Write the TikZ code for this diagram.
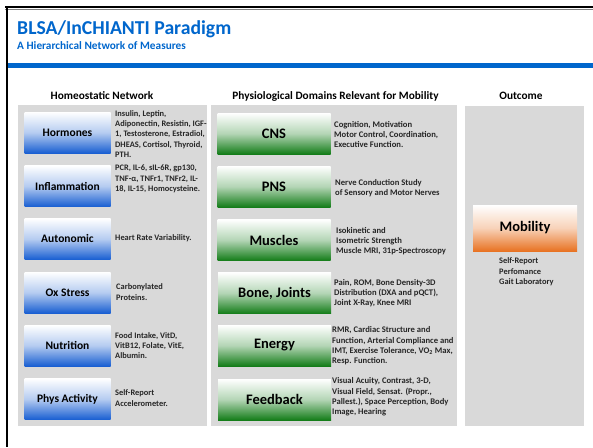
\documentclass[tikz,border=0pt]{standalone}
\usepackage{fontspec}
\setmainfont{Carlito}
\definecolor{titleblue}{RGB}{0,102,204}
\definecolor{panelgray}{RGB}{217,217,217}
\definecolor{boxblue}{RGB}{25,95,210}
\definecolor{boxgreen}{RGB}{20,125,25}
\definecolor{boxorange}{RGB}{232,115,35}
\definecolor{desctext}{RGB}{38,38,38}
\newcommand{\ds}{\fontsize{8.4}{10.3}\selectfont\bfseries}
\newcommand{\dds}{\fontsize{8.6}{10.3}\selectfont\bfseries}

\begin{document}
\begin{tikzpicture}[x=1pt,y=-1pt,
    hbox/.style={minimum width=86pt,minimum height=41pt,inner sep=0pt,
      font=\fontsize{11.5}{13}\selectfont\bfseries,
      top color=white,bottom color=boxblue,middle color=boxblue!32!white},
    dbox/.style={minimum width=113pt,minimum height=41pt,inner sep=0pt,
      font=\fontsize{14.5}{16}\selectfont\bfseries,
      top color=white,bottom color=boxgreen,middle color=boxgreen!32!white},
    obox/.style={minimum width=104pt,minimum height=46pt,inner sep=0pt,
      font=\fontsize{14.5}{16}\selectfont\bfseries,
      top color=white,bottom color=boxorange,middle color=boxorange!32!white},
    desc/.style={anchor=west,align=left,inner sep=0pt,text=desctext,font=\ds},
    ddesc/.style={desc,font=\dds},
    colhead/.style={anchor=base,inner sep=0pt,font=\fontsize{11.3}{13}\selectfont\bfseries}]
  \useasboundingbox (0,0) rectangle (593,447);
  % frame and title
  \draw[line width=2.4pt] (5,7.2) -- (593,7.2);
  \draw[gray,line width=0.9pt] (5,9.2) -- (593,9.2);
  \draw[line width=2.4pt] (7,6) -- (7,447);
  \fill[titleblue] (8,63) rectangle (593,68);
  \node (title) [anchor=base west,inner sep=0pt,text=titleblue,font=\fontsize{19.7}{22}\selectfont\bfseries]
    at (17,34.3) {BLSA/InCHIANTI Paradigm};
  \node (subtitle) [anchor=base west,inner sep=0pt,text=titleblue,font=\fontsize{11.3}{13}\selectfont\bfseries]
    at (17,49.3) {A Hierarchical Network of Measures};
  % panels
  \fill[panelgray] (18,105) rectangle (207,426);
  \fill[panelgray] (211,105) rectangle (457,426);
  \fill[panelgray] (465,106) rectangle (584,426);
  \node (homeo)   [colhead] at (102,99)   {Homeostatic Network};
  \node (domains) [colhead] at (335.5,99) {Physiological Domains Relevant for Mobility};
  \node (outcome) [colhead] at (521,99)   {Outcome};
  % homeostatic network
  \node (hormones) [hbox] at (67.5,132.5) {Hormones};
  \node (inflam)   [hbox] at (67.5,186)   {Inflammation};
  \node (auton)    [hbox] at (67.5,239)   {Autonomic};
  \node (oxstress) [hbox] at (67.5,292.5) {Ox Stress};
  \node (nutrit)   [hbox] at (67.5,345.5) {Nutrition};
  \node (physact)  [hbox] at (67.5,399)   {Phys Activity};
  \node (hormones-d) [desc] at (115,134) {Insulin, Leptin,\\Adiponectin, Resistin, IGF-\\1, Testosterone, Estradiol,\\DHEAS, Cortisol, Thyroid,\\PTH.};
  \node (inflam-d)   [desc] at (115,179) {PCR, IL-6, sIL-6R, gp130,\\TNF-α, TNFr1, TNFr2, IL-\\18, IL-15, Homocysteine.};
  \node (auton-d)    [desc] at (115,238) {Heart Rate Variability.};
  \node (oxstress-d) [desc] at (116,292) {Carbonylated\\Proteins.};
  \node (nutrit-d)   [desc] at (115,345.5) {Food Intake, VitD,\\VitB12, Folate, VitE,\\Albumin.};
  \node (physact-d)  [desc] at (115,398) {Self-Report\\Accelerometer.};
  % physiological domains
  \node (cns)      [dbox] at (274,133.5) {CNS};
  \node (pns)      [dbox] at (274,186.5) {PNS};
  \node (muscles)  [dbox] at (274,240)   {Muscles};
  \node (bone)     [dbox] at (274.5,293) {Bone, Joints};
  \node (energy)   [dbox] at (274.5,345.5) {Energy};
  \node (feedback) [dbox] at (274.5,399.5) {Feedback};
  \node (cns-d)      [ddesc] at (334,134.5) {Cognition, Motivation\\Motor Control, Coordination,\\Executive Function.};
  \node (pns-d)      [ddesc] at (335,188)   {Nerve Conduction Study\\of Sensory and Motor Nerves};
  \node (muscles-d)  [ddesc] at (336,241)   {Isokinetic and\\Isometric Strength\\Muscle MRI, 31p-Spectroscopy};
  \node (bone-d)     [ddesc] at (334,293)   {Pain, ROM, Bone Density-3D\\Distribution (DXA and pQCT),\\Joint X-Ray, Knee MRI};
  \node (energy-d)   [ddesc] at (332,346)   {RMR, Cardiac Structure and\\Function, Arterial Compliance and\\IMT, Exercise Tolerance, VO\textsubscript{2} Max,\\Resp. Function.};
  \node (feedback-d) [ddesc] at (332,397)   {Visual Acuity, Contrast, 3-D,\\Visual Field, Sensat. (Propr.,\\Pallest.), Space Perception, Body\\Image, Hearing};
  % outcome
  \node (mobility)   [obox] at (525,228) {Mobility};
  \node (mobility-d) [desc] at (499,272) {Self-Report\\Perfomance\\Gait Laboratory};
\end{tikzpicture}
\end{document}
